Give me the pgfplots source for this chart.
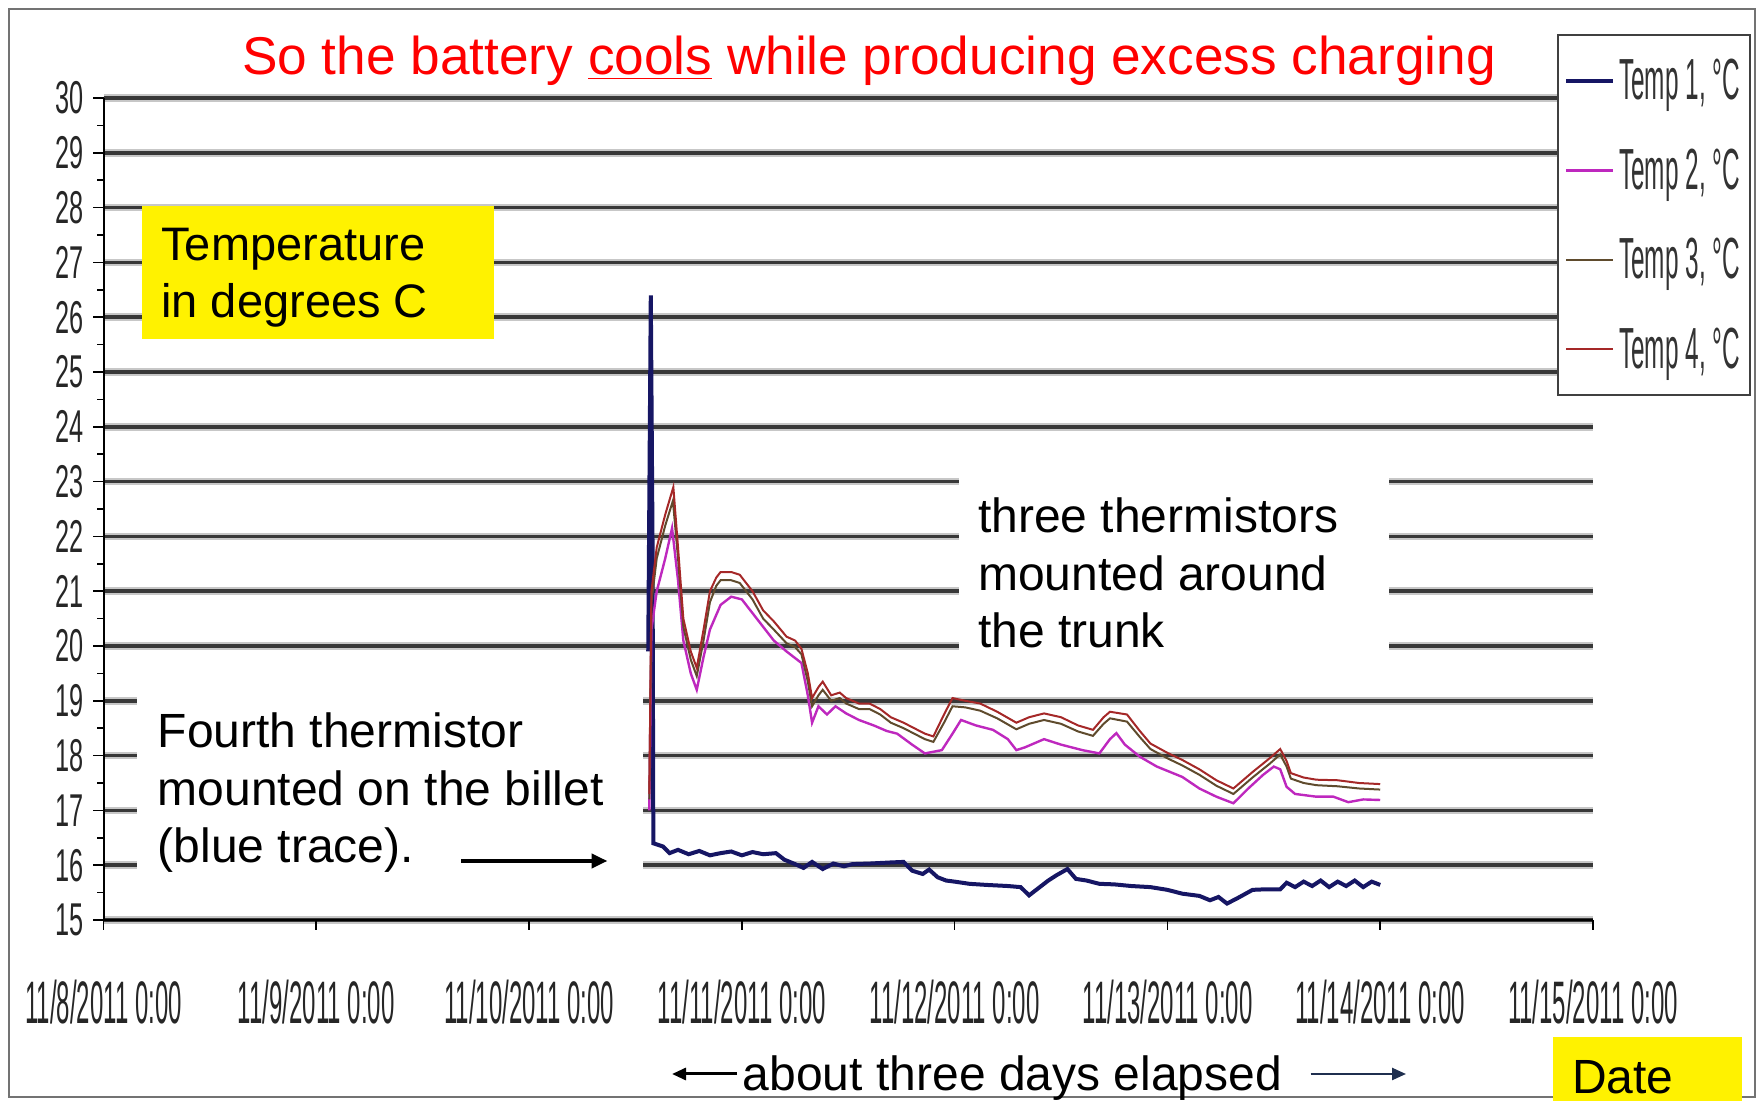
\documentclass[border=0pt]{standalone}
\usepackage{fontspec}
\setmainfont{Liberation Sans}
\newfontfamily\condX[FakeStretch=0.40]{Liberation Sans}
\newfontfamily\condY[FakeStretch=0.55]{Liberation Sans}
\newfontfamily\condL[FakeStretch=0.42]{Liberation Sans}
\usepackage{pgfplots}
\pgfplotsset{compat=1.18}
\usetikzlibrary{arrows.meta}
\definecolor{tone}{RGB}{22,22,100}
\definecolor{ttwo}{RGB}{190,40,190}
\definecolor{tthree}{RGB}{95,75,45}
\definecolor{tfour}{RGB}{165,40,40}
\definecolor{arrnavy}{RGB}{31,47,79}

\pgfplotstableread{
d v
2.560 19.9
2.572 26.4
2.580 22.0
2.584 16.4
2.630 16.34
2.660 16.22
2.700 16.28
2.750 16.20
2.800 16.26
2.850 16.18
2.900 16.22
2.950 16.25
3.000 16.18
3.050 16.24
3.100 16.20
3.160 16.22
3.200 16.10
3.250 16.02
3.290 15.95
3.330 16.06
3.380 15.93
3.430 16.03
3.480 15.98
3.520 16.02
3.600 16.03
3.700 16.05
3.760 16.06
3.800 15.90
3.850 15.84
3.880 15.92
3.920 15.78
3.960 15.72
4.000 15.70
4.070 15.66
4.150 15.64
4.250 15.62
4.310 15.60
4.350 15.45
4.400 15.60
4.440 15.72
4.480 15.82
4.530 15.93
4.570 15.75
4.620 15.72
4.680 15.66
4.750 15.65
4.830 15.62
4.920 15.60
5.000 15.55
5.070 15.48
5.150 15.44
5.200 15.36
5.240 15.42
5.280 15.30
5.330 15.40
5.400 15.55
5.460 15.56
5.530 15.56
5.560 15.68
5.600 15.60
5.640 15.70
5.680 15.62
5.720 15.72
5.760 15.60
5.800 15.70
5.840 15.62
5.880 15.72
5.920 15.60
5.960 15.70
6.000 15.64
}\tempone

\pgfplotstableread{
d v
2.565 17.0
2.575 20.3
2.600 21.0
2.640 21.6
2.672 22.15
2.700 21.2
2.725 20.1
2.760 19.5
2.788 19.2
2.820 19.8
2.850 20.3
2.900 20.75
2.950 20.9
3.000 20.85
3.050 20.6
3.100 20.35
3.150 20.1
3.210 19.9
3.280 19.69
3.310 19.1
3.330 18.6
3.360 18.9
3.400 18.75
3.440 18.9
3.490 18.77
3.550 18.65
3.620 18.55
3.680 18.45
3.730 18.4
3.800 18.2
3.860 18.04
3.940 18.1
3.990 18.4
4.030 18.65
4.100 18.55
4.180 18.47
4.250 18.3
4.290 18.1
4.330 18.15
4.420 18.3
4.500 18.2
4.600 18.1
4.680 18.04
4.730 18.3
4.760 18.41
4.800 18.2
4.870 17.98
4.950 17.8
5.070 17.61
5.150 17.4
5.230 17.25
5.310 17.13
5.380 17.4
5.450 17.65
5.500 17.8
5.530 17.75
5.560 17.43
5.600 17.3
5.700 17.25
5.780 17.25
5.850 17.15
5.920 17.2
6.000 17.19
}\temptwo

\pgfplotstableread{
d v
2.565 17.2
2.575 20.8
2.600 21.6
2.640 22.2
2.676 22.65
2.700 21.6
2.725 20.35
2.760 19.75
2.788 19.45
2.820 20.1
2.850 20.8
2.880 21.1
2.900 21.2
2.950 21.2
2.990 21.15
3.050 20.85
3.100 20.5
3.150 20.3
3.210 20.05
3.250 19.98
3.280 19.85
3.310 19.35
3.330 18.9
3.360 19.1
3.380 19.2
3.420 19.0
3.460 19.05
3.490 18.95
3.550 18.85
3.600 18.85
3.650 18.75
3.700 18.6
3.760 18.5
3.810 18.4
3.860 18.3
3.900 18.25
3.950 18.6
3.990 18.9
4.050 18.88
4.120 18.82
4.200 18.68
4.290 18.48
4.350 18.58
4.420 18.65
4.500 18.58
4.580 18.44
4.650 18.36
4.700 18.58
4.730 18.68
4.810 18.62
4.870 18.34
4.920 18.12
5.000 17.95
5.070 17.82
5.150 17.65
5.230 17.45
5.310 17.3
5.400 17.6
5.480 17.85
5.530 18.02
5.560 17.8
5.580 17.58
5.640 17.5
5.700 17.46
5.800 17.44
5.900 17.4
6.000 17.38
}\tempthree

\pgfplotstableread{
d v
2.565 17.3
2.575 21.0
2.600 21.8
2.640 22.4
2.678 22.9
2.700 21.8
2.725 20.5
2.760 19.9
2.788 19.6
2.820 20.3
2.850 21.0
2.880 21.25
2.900 21.35
2.950 21.35
2.990 21.3
3.050 21.0
3.100 20.65
3.150 20.45
3.210 20.17
3.250 20.1
3.280 19.95
3.310 19.5
3.330 19.05
3.360 19.25
3.380 19.35
3.420 19.1
3.460 19.15
3.490 19.05
3.550 18.95
3.600 18.95
3.650 18.85
3.700 18.7
3.760 18.6
3.810 18.5
3.860 18.4
3.900 18.35
3.950 18.75
3.990 19.05
4.050 19.0
4.120 18.95
4.200 18.8
4.290 18.6
4.350 18.7
4.420 18.77
4.500 18.7
4.580 18.55
4.650 18.47
4.700 18.7
4.730 18.8
4.810 18.75
4.870 18.45
4.920 18.22
5.000 18.05
5.070 17.92
5.150 17.75
5.230 17.55
5.310 17.4
5.400 17.7
5.480 17.95
5.530 18.12
5.560 17.9
5.580 17.68
5.640 17.6
5.700 17.56
5.800 17.55
5.900 17.5
6.000 17.48
}\tempfour

\begin{document}
\begin{tikzpicture}[x=1pt,y=1pt]
\useasboundingbox (0,0) rectangle (882,550.5);
\begin{axis}[
  at={(51.75pt,90.5pt)}, anchor=south west,
  scale only axis, width=744.75pt, height=411pt,
  xmin=0, xmax=7, ymin=15, ymax=30,
  axis x line*=bottom, axis y line*=left,
  axis line style={black, line width=1pt},
  xtick={0,...,7},
  xticklabels={11/8/2011 0:00,11/9/2011 0:00,11/10/2011 0:00,11/11/2011 0:00,11/12/2011 0:00,11/13/2011 0:00,11/14/2011 0:00,11/15/2011 0:00},
  ytick={15,...,30},
  minor y tick num=1,
  tick align=outside,
  major tick length=5pt, minor tick length=3pt,
  tick style={black, line width=0.8pt},
  ymajorgrids,
  major grid style={draw=black!78, line width=1.8pt, preaction={draw=black!22, line width=3.8pt}},
  /pgf/number format/assume math mode=true,
  xticklabel style={font=\fontsize{30}{30}\condX, text=black!85, anchor=center, yshift=-35.8pt},
  yticklabel style={font=\fontsize{23}{23}\condY, text=black!85, anchor=east, inner sep=0pt, xshift=-4.75pt},
  legend style={at={(0.9758,1.0779)}, anchor=north west, draw=black!75, line width=1.2pt, fill=white,
     inner xsep=3pt, inner ysep=10pt, font=\fontsize{29}{29}\condL, text=black!80, row sep=19pt},
  legend cell align=left,
  legend image code/.code={\draw[#1] (0pt,0pt) -- (23.5pt,0pt);},
]
\addplot[tone, line width=2pt] table[x=d,y=v] {\tempone};
\addplot[ttwo, line width=1.2pt] table[x=d,y=v] {\temptwo};
\addplot[tthree, line width=1pt] table[x=d,y=v] {\tempthree};
\addplot[tfour, line width=1pt] table[x=d,y=v] {\tempfour};
\legend{Temp 1{,} °C, Temp 2{,} °C, Temp 3{,} °C, Temp 4{,} °C}
\end{axis}

% frame
\draw[black!55, line width=1.2pt] (4.5,2) rectangle (877.5,546);

% title
\node[anchor=base, text=red, inner sep=0pt, font=\fontsize{26.6}{26.6}\selectfont] at (434.5,513) {So the battery \underline{cools} while producing excess charging};

% yellow label
\fill[yellow] (70.9,381.2) rectangle (246.95,447.55);
\node[anchor=base west, inner sep=0pt, font=\fontsize{23.5}{23.5}\selectfont] at (80.5,420) {Temperature};
\node[anchor=base west, inner sep=0pt, font=\fontsize{23.5}{23.5}\selectfont] at (80.5,391.5) {in degrees C};

% three thermistors
\fill[white] (479.25,221.5) rectangle (694.7,312.15);
\node[anchor=base west, inner sep=0pt, font=\fontsize{24}{24}\selectfont] at (488.8,284) {three thermistors};
\node[anchor=base west, inner sep=0pt, font=\fontsize{24}{24}\selectfont] at (488.8,255.2) {mounted around};
\node[anchor=base west, inner sep=0pt, font=\fontsize{24}{24}\selectfont] at (488.8,226.5) {the trunk};

% billet
\fill[white] (68.5,107) rectangle (321.5,209);
\node[anchor=base west, inner sep=0pt, font=\fontsize{24}{24}\selectfont] at (78.75,176.5) {Fourth thermistor};
\node[anchor=base west, inner sep=0pt, font=\fontsize{24}{24}\selectfont] at (78.75,147.75) {mounted on the billet};
\node[anchor=base west, inner sep=0pt, font=\fontsize{24}{24}\selectfont] at (78.75,119) {(blue trace).};
\draw[black, line width=2.2pt, -{Triangle[length=8pt,width=7pt]}] (230.5,120) -- (303.75,120);

% bottom
\node[anchor=base west, inner sep=0pt, font=\fontsize{24}{24}\selectfont] at (371.25,5) {about three days elapsed};
\draw[black, line width=1.5pt, -{Triangle[length=7pt,width=6pt]}] (368.5,13.5) -- (336,13.5);
\draw[arrnavy, line width=1.2pt, -{Triangle[length=7pt,width=6pt]}] (655.3,13.5) -- (703,13.5);

% Date
\fill[yellow] (776.25,0) rectangle (870.75,32);
\node[anchor=base west, inner sep=0pt, font=\fontsize{24}{24}\selectfont] at (785.8,3.75) {Date};
\end{tikzpicture}
\end{document}
